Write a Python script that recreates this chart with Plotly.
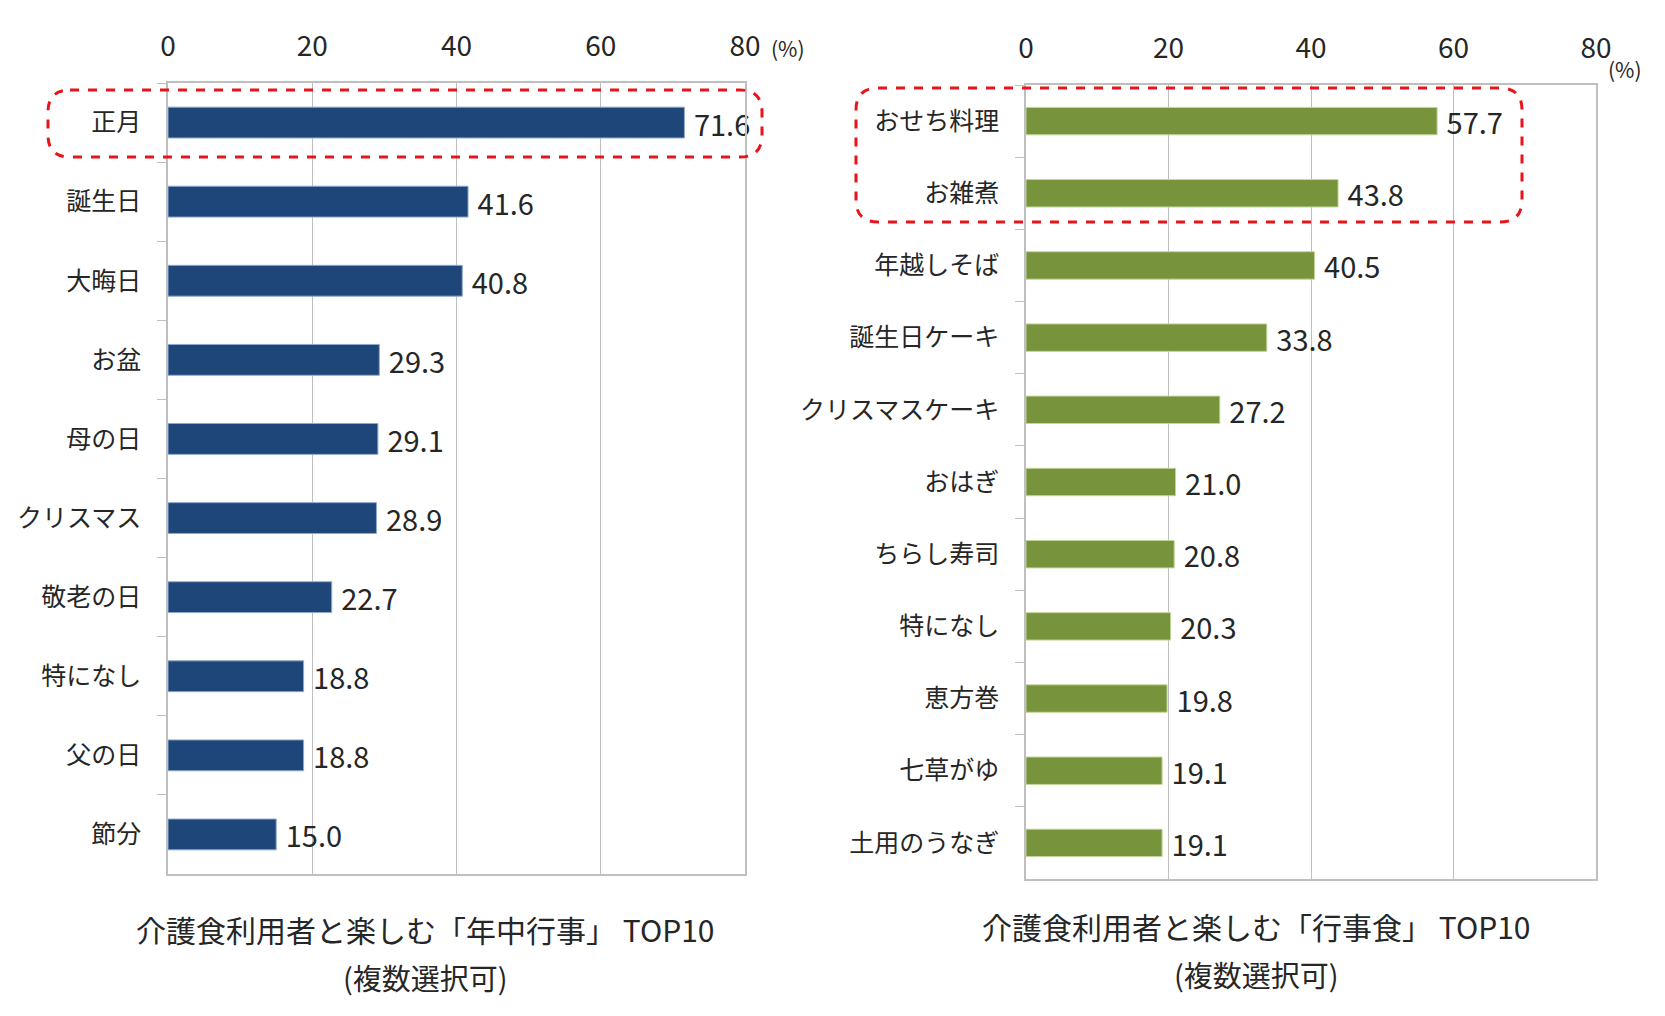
import plotly.graph_objects as go

# データ (%)
events = ["正月", "誕生日", "大晦日", "お盆", "母の日", "クリスマス", "敬老の日", "特になし", "父の日", "節分"]
events_pct = [71.6, 41.6, 40.8, 29.3, 29.1, 28.9, 22.7, 18.8, 18.8, 15.0]

foods = ["おせち料理", "お雑煮", "年越しそば", "誕生日ケーキ", "クリスマスケーキ", "おはぎ",
         "ちらし寿司", "特になし", "恵方巻", "七草がゆ", "土用のうなぎ"]
foods_pct = [57.7, 43.8, 40.5, 33.8, 27.2, 21.0, 20.8, 20.3, 19.8, 19.1, 19.1]

x_ticks = [0, 20, 40, 60, 80]

W, H = 1665, 1016
OFF = 8  # ページ本体の余白分
FONT = "Noto Sans CJK JP"
TXT = "#262626"
GRID = "#BFBFBF"


def px(x):
    return (x - OFF) / W


def py(y):
    return 1 - (y - OFF) / H


def rounded_box(x0, y0, x1, y1, r):
    # ピクセル座標 -> paper 座標の角丸パス
    X = lambda v: px(v)
    Y = lambda v: py(v)
    rx, ry = r / W, r / H
    return (f"M {X(x0)+rx},{Y(y0)} L {X(x1)-rx},{Y(y0)} "
            f"Q {X(x1)},{Y(y0)} {X(x1)},{Y(y0)-ry} "
            f"L {X(x1)},{Y(y1)+ry} Q {X(x1)},{Y(y1)} {X(x1)-rx},{Y(y1)} "
            f"L {X(x0)+rx},{Y(y1)} Q {X(x0)},{Y(y1)} {X(x0)},{Y(y1)+ry} "
            f"L {X(x0)},{Y(y0)-ry} Q {X(x0)},{Y(y0)} {X(x0)+rx},{Y(y0)} Z")


fig = go.Figure()

fig.add_trace(go.Bar(
    x=events_pct, y=events, orientation="h",
    marker=dict(color="#1F4678", line=dict(color="#8EA9D0", width=1)),
    width=0.39,
    texttemplate="\u00a0%{x:.1f}", textposition="outside", cliponaxis=False,
    constraintext="none",
    textfont=dict(size=29, color=TXT, family=FONT),
    xaxis="x", yaxis="y", showlegend=False, hoverinfo="x+y",
))

fig.add_trace(go.Bar(
    x=foods_pct, y=foods, orientation="h",
    marker=dict(color="#77933C", line=dict(color="#C3D69B", width=1)),
    width=0.38,
    texttemplate="\u00a0%{x:.1f}", textposition="outside", cliponaxis=False,
    constraintext="none",
    textfont=dict(size=29, color=TXT, family=FONT),
    xaxis="x2", yaxis="y2", showlegend=False, hoverinfo="x+y",
))

xax = dict(range=[0, 80], tickvals=x_ticks, side="top", showgrid=True, gridcolor=GRID,
           gridwidth=1, showline=True, linecolor=GRID, linewidth=1.5, mirror=True,
           zeroline=False, ticks="", ticklabelstandoff=14, automargin=False,
           tickfont=dict(size=28, color=TXT, family=FONT), fixedrange=True)
yax = dict(autorange="reversed", showline=True, linecolor=GRID, linewidth=1.5, mirror=True,
           ticks="outside", tickson="boundaries", ticklen=9, tickcolor=GRID,
           ticklabelstandoff=20, showgrid=False, automargin=False,
           tickfont=dict(size=25, color=TXT, family=FONT), fixedrange=True)

fig.update_layout(
    width=W, height=H,
    margin=dict(l=0, r=0, t=0, b=0),
    paper_bgcolor="white", plot_bgcolor="white",
    font=dict(family=FONT, color=TXT),
    xaxis=dict(xax, domain=[px(168), px(745)], anchor="y"),
    yaxis=dict(yax, domain=[py(874), py(83)], anchor="x"),
    xaxis2=dict(xax, domain=[px(1026), px(1596)], anchor="y2"),
    yaxis2=dict(yax, domain=[py(879), py(85)], anchor="x2"),
)

# 単位
fig.add_annotation(text="(%)", x=px(788), y=py(48), xref="paper", yref="paper",
                   xanchor="center", yanchor="middle", showarrow=False,
                   font=dict(size=21, color=TXT, family=FONT))
fig.add_annotation(text="(%)", x=px(1625), y=py(69), xref="paper", yref="paper",
                   xanchor="center", yanchor="middle", showarrow=False,
                   font=dict(size=21, color=TXT, family=FONT))

# タイトル
titles = [
    ("介護食利用者と楽しむ「年中行事」 TOP10", 425, 929, 977),
    ("介護食利用者と楽しむ「行事食」 TOP10", 1256, 926, 974),
]
for t, cx, ty, sy in titles:
    fig.add_annotation(text=t, x=px(cx), y=py(ty), xref="paper", yref="paper",
                       xanchor="center", yanchor="middle", showarrow=False,
                       font=dict(size=30, color=TXT, family=FONT))
    fig.add_annotation(text="(複数選択可)", x=px(cx), y=py(sy), xref="paper", yref="paper",
                       xanchor="center", yanchor="middle", showarrow=False,
                       font=dict(size=29, color=TXT, family=FONT))

# 赤い点線の枠
for box in [(48, 90, 762, 157), (856, 88, 1522, 222)]:
    fig.add_shape(type="path", path=rounded_box(*box, 22), xref="paper", yref="paper",
                  line=dict(color="#E8141B", width=3, dash="dash"))

fig.write_html("out.html")
